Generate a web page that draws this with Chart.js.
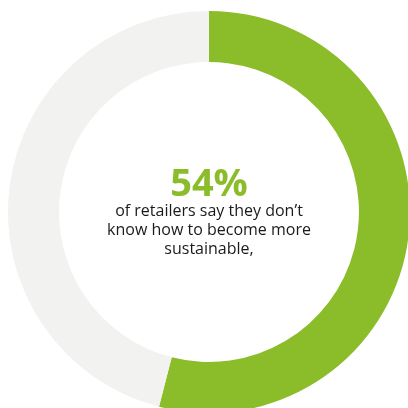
<!DOCTYPE html>
<html>
<head>
<meta charset="utf-8">
<script src="https://cdn.jsdelivr.net/npm/chart.js@4"></script>
<style>
  html, body { margin: 0; padding: 0; background: #fff; overflow: hidden; width: 408px; height: 408px; }
  #wrap { position: absolute; left: 8px; top: 11px; width: 402px; height: 402px; }
</style>
</head>
<body>
<div id="wrap"><canvas id="ring"></canvas></div>
<script>
  const labels = ['Don\u2019t know how', 'Other'];
  const values = [54, 46];
  const colors = ['#8BBC29', '#F2F2F1'];
  const headline = '54%';
  const captionLines = ['of retailers say they don\u2019t', 'know how to become more', 'sustainable,'];

  const centerText = {
    id: 'centerText',
    afterDraw(chart) {
      const { ctx, chartArea } = chart;
      const cx = (chartArea.left + chartArea.right) / 2;
      const cy = (chartArea.top + chartArea.bottom) / 2;
      ctx.save();
      ctx.textAlign = 'center';
      ctx.textBaseline = 'alphabetic';
      ctx.fillStyle = '#8BBC29';
      ctx.font = "bold 38px 'Open Sans', sans-serif";
      ctx.fillText(headline, cx, cy - 16);
      ctx.fillStyle = '#1a1a1a';
      ctx.font = "16px 'Open Sans', sans-serif";
      captionLines.forEach((line, i) => {
        ctx.fillText(line, cx, cy + 4 + i * 19);
      });
      ctx.restore();
    }
  };

  new Chart(document.getElementById('ring'), {
    type: 'doughnut',
    data: {
      labels: labels,
      datasets: [{
        data: values,
        backgroundColor: colors,
        borderWidth: 0
      }]
    },
    options: {
      responsive: true,
      maintainAspectRatio: false,
      animation: false,
      cutout: '74.6%',
      layout: { padding: 0 },
      plugins: {
        legend: { display: false },
        tooltip: { enabled: false }
      }
    },
    plugins: [centerText]
  });
</script>
</body>
</html>
